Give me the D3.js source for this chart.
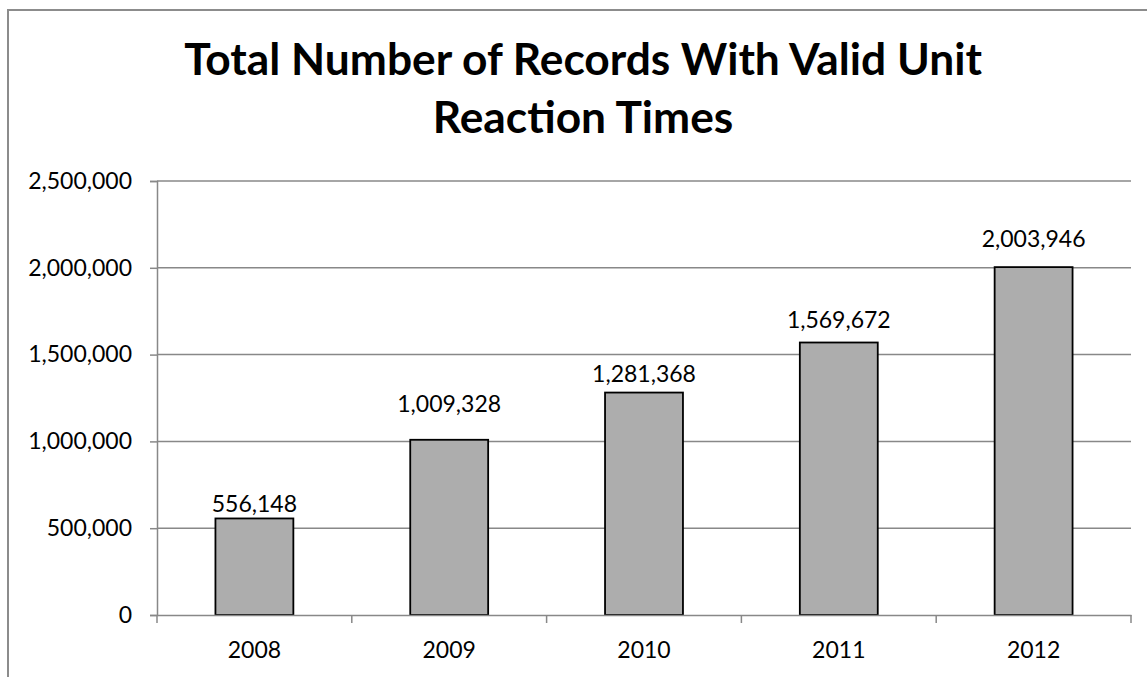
<!DOCTYPE html>
<html>
<head>
<meta charset="utf-8">
<script src="https://cdn.jsdelivr.net/npm/d3@7"></script>
<style>
  body { margin: 0; background: #fff; }
  svg { display: block; font-family: Lato, "Open Sans", sans-serif; }
</style>
</head>
<body>
<div id="chart-container"></div>
<script>
const years = ["2008", "2009", "2010", "2011", "2012"];
const records = [556148, 1009328, 1281368, 1569672, 2003946];
const yTicks = [0, 500000, 1000000, 1500000, 2000000, 2500000];
const titleLines = ["Total Number of Records With Valid Unit", "Reaction Times"];

// the value labels were nudged by hand in the original, gap above each bar (px)
const labelGap = [6, 28, 11, 15, 20];

const width = 1147;
const height = 677;
const margin = { top: 181, right: 16, bottom: 62, left: 157 };
const fmt = d3.format(",");

const svg = d3.select("#chart-container").append("svg")
    .attr("width", width)
    .attr("height", height);

// chart border (runs off the right and bottom of the picture)
svg.append("rect")
    .attr("x", 8).attr("y", 10)
    .attr("width", 1150).attr("height", 720)
    .attr("fill", "none")
    .attr("stroke", "#8c8c8c")
    .attr("stroke-width", 2);

const x = d3.scaleBand()
    .domain(years)
    .range([margin.left, width - margin.right])
    .paddingInner(0.6)
    .paddingOuter(0.3);

const y = d3.scaleLinear()
    .domain([0, 2500000])
    .range([height - margin.bottom, margin.top]);

// title
const title = svg.append("g")
    .attr("font-weight", "bold")
    .attr("text-anchor", "middle");
title.selectAll("text")
    .data(titleLines)
    .join("text")
    .attr("x", 583)
    .attr("y", (d, i) => 75 + i * 58)
    .attr("font-size", 40)
    .text(d => d);
// fit the first line to the width seen in the picture
const w0 = title.select("text").node().getComputedTextLength();
title.selectAll("text").attr("font-size", 40 * 798 / w0);

// gridlines
svg.append("g")
    .selectAll("line")
    .data(yTicks.slice(1))
    .join("line")
    .attr("x1", margin.left)
    .attr("x2", width - margin.right)
    .attr("y1", d => y(d))
    .attr("y2", d => y(d))
    .attr("stroke", "#888")
    .attr("stroke-width", 1.5);

// bars
svg.append("g")
    .selectAll("rect")
    .data(records)
    .join("rect")
    .attr("x", (d, i) => x(years[i]))
    .attr("y", d => y(d))
    .attr("width", x.bandwidth())
    .attr("height", d => y(0) - y(d))
    .attr("fill", "#adadad")
    .attr("stroke", "#000")
    .attr("stroke-width", 1.8);

// value labels
svg.append("g")
    .attr("text-anchor", "middle")
    .attr("font-size", 23)
    .selectAll("text")
    .data(records)
    .join("text")
    .attr("x", (d, i) => x(years[i]) + x.bandwidth() / 2)
    .attr("y", (d, i) => y(d) - labelGap[i])
    .text(d => fmt(d));

// y axis
const yAxis = svg.append("g")
    .attr("transform", `translate(${margin.left},0)`)
    .call(d3.axisLeft(y).tickValues(yTicks).tickFormat(fmt).tickSize(7).tickPadding(18));
yAxis.selectAll("line, path").attr("stroke", "#888").attr("stroke-width", 1.5);
yAxis.selectAll("text").attr("font-size", 23).attr("font-family", "Lato, sans-serif").attr("fill", "#000");

// x axis with ticks at band boundaries
const xAxis = svg.append("g")
    .attr("transform", `translate(0,${y(0)})`)
    .call(d3.axisBottom(x).tickSize(0).tickPadding(27));
xAxis.select(".domain").attr("stroke", "#888").attr("stroke-width", 1.5);
xAxis.selectAll("text").attr("font-size", 23).attr("font-family", "Lato, sans-serif").attr("fill", "#000");
const bounds = d3.range(years.length + 1).map(i => margin.left + i * (width - margin.right - margin.left) / years.length);
xAxis.selectAll(".bound")
    .data(bounds)
    .join("line")
    .attr("class", "bound")
    .attr("x1", d => d).attr("x2", d => d)
    .attr("y1", 0).attr("y2", 8)
    .attr("stroke", "#888")
    .attr("stroke-width", 1.5);
</script>
</body>
</html>
